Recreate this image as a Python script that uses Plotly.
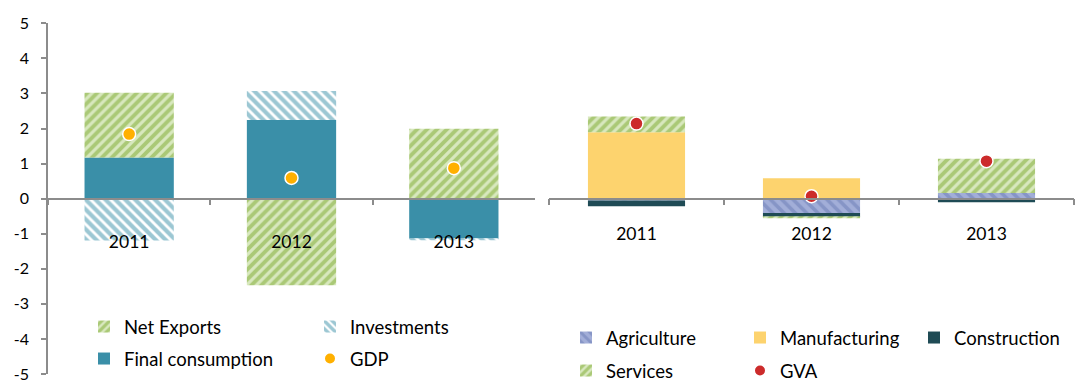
import plotly.graph_objects as go

years = ["2011", "2012", "2013"]

# Demand side (left panel)
final_consumption = [1.17, 2.24, -1.14]
investments = [-1.19, 0.83, -0.03]
net_exports = [1.85, -2.47, 1.99]
gdp = [1.84, 0.59, 0.87]

# Supply side (right panel)
agriculture = [-0.05, -0.41, 0.16]
manufacturing = [1.89, 0.58, 0.0]
construction = [-0.17, -0.11, -0.10]
services = [0.45, -0.02, 0.98]
gva = [2.14, 0.07, 1.07]

# y-axis tick labels (hyphen minus as in the original)
y_tickvals = [-5, -4, -3, -2, -1, 0, 1, 2, 3, 4, 5]
y_ticktext = ["-5", "-4", "-3", "-2", "-1", "0", "1", "2", "3", "4", "5"]

C_TEAL = "#3A8FA8"
C_GREEN_FG = "#7CA92E"
C_GREEN_BG = "#D8E8BE"
C_INV_FG = "#3A8FA8"
C_AGR_FG = "#6A7BB4"
C_AGR_BG = "#A2AED8"
C_MANUF = "#FDD36E"
C_CONSTR = "#1F4B55"
C_GDP = "#FFB000"
C_GVA = "#CC2B2B"
AXC = "#8C8C8C"

FONT = "Lato"

fig = go.Figure()

green_pat = dict(shape="/", fgcolor=C_GREEN_FG, bgcolor=C_GREEN_BG, size=7, solidity=0.55)

# left panel
fig.add_trace(go.Bar(x=years, y=final_consumption, name="Final consumption", width=0.55,
                     marker=dict(color=C_TEAL, line=dict(width=0)),
                     xaxis="x", yaxis="y", legend="legend2"))
fig.add_trace(go.Bar(x=years, y=net_exports, name="Net Exports", width=0.55,
                     marker=dict(color=C_GREEN_BG, line=dict(width=0), pattern=green_pat),
                     xaxis="x", yaxis="y", legend="legend"))
fig.add_trace(go.Bar(x=years, y=investments, name="Investments", width=0.55,
                     marker=dict(color="white", line=dict(width=0),
                                 pattern=dict(shape="\\", fgcolor=C_INV_FG, bgcolor="white",
                                              size=7, solidity=0.6)),
                     xaxis="x", yaxis="y", legend="legend"))
fig.add_trace(go.Scatter(x=years, y=gdp, name="GDP", mode="markers",
                         marker=dict(color=C_GDP, size=13, line=dict(color="white", width=1.5)),
                         xaxis="x", yaxis="y", legend="legend2"))

# right panel
fig.add_trace(go.Bar(x=years, y=agriculture, name="Agriculture", width=0.555,
                     marker=dict(color=C_AGR_BG, line=dict(width=0),
                                 pattern=dict(shape="\\", fgcolor=C_AGR_FG, bgcolor=C_AGR_BG,
                                              size=8, solidity=0.45)),
                     xaxis="x2", yaxis="y", legend="legend3"))
fig.add_trace(go.Bar(x=years, y=manufacturing, name="Manufacturing", width=0.555,
                     marker=dict(color=C_MANUF, line=dict(width=0)),
                     xaxis="x2", yaxis="y", legend="legend3"))
fig.add_trace(go.Bar(x=years, y=construction, name="Construction", width=0.555,
                     marker=dict(color=C_CONSTR, line=dict(width=0)),
                     xaxis="x2", yaxis="y", legend="legend3"))
fig.add_trace(go.Bar(x=years, y=services, name="Services", width=0.555,
                     marker=dict(color=C_GREEN_BG, line=dict(width=0), pattern=green_pat),
                     xaxis="x2", yaxis="y", legend="legend4"))
fig.add_trace(go.Scatter(x=years, y=gva, name="GVA", mode="markers",
                         marker=dict(color=C_GVA, size=13, line=dict(color="white", width=1.5)),
                         xaxis="x2", yaxis="y", legend="legend4"))

W, H = 1088, 380
zero_pos = (H - 198.5) / H

xcommon = dict(type="category", range=[-0.5, 2.5], anchor="free", position=zero_pos,
               showline=True, linecolor=AXC, linewidth=1.5, ticks="outside",
               tickson="boundaries", ticklen=6, tickcolor=AXC, tickwidth=1.5,
               showgrid=False, zeroline=False, tickfont=dict(family=FONT, size=17.5, color="black"))

leg_common = dict(orientation="h", xanchor="left", yanchor="middle",
                  bgcolor="rgba(0,0,0,0)", font=dict(family=FONT, size=18.5, color="black"),
                  entrywidthmode="pixels", itemsizing="constant")

fig.update_layout(
    width=W, height=H,
    margin=dict(l=0, r=0, t=0, b=0, autoexpand=False),
    plot_bgcolor="white", paper_bgcolor="white",
    barmode="relative",
    font=dict(family=FONT, size=16, color="black"),
    xaxis=dict(domain=[48 / W, 535 / W], ticklabelstandoff=28, **xcommon),
    xaxis2=dict(domain=[549 / W, 1074 / W], ticklabelstandoff=20, **xcommon),
    yaxis=dict(domain=[6 / H, 356.7 / H], range=[-5, 5], tickmode="array",
               tickvals=y_tickvals, ticktext=y_ticktext, anchor="x",
               showline=True, linecolor=AXC, linewidth=1.5, ticks="outside", ticklen=5,
               tickcolor=AXC, tickwidth=1.5, showgrid=False, zeroline=False,
               ticklabeloverflow="allow",
               ticklabelstandoff=9, tickfont=dict(family=FONT, size=16, color="black")),
    legend=dict(x=(104 - 20) / W, y=1 - 327 / H, entrywidth=181, **leg_common),
    legend2=dict(x=(104 - 20) / W, y=1 - 359 / H, entrywidth=181, **leg_common),
    legend3=dict(x=(586 - 20) / W, y=1 - 338 / H, entrywidth=129, **leg_common),
    legend4=dict(x=(586 - 20) / W, y=1 - 371 / H, entrywidth=129, **leg_common),
)

fig.write_html("out.html")
